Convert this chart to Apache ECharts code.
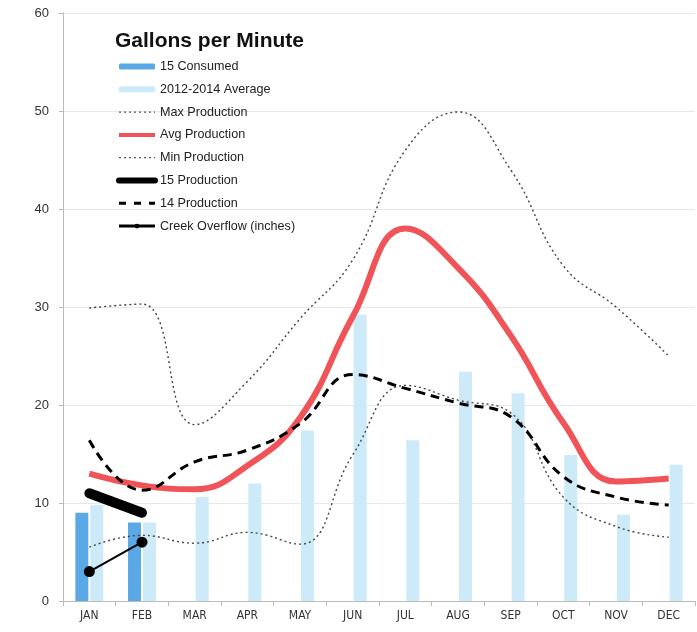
<!DOCTYPE html>
<html><head><meta charset="utf-8">
<script src="https://cdn.jsdelivr.net/npm/echarts@6/dist/echarts.min.js"></script>
<style>html,body{margin:0;padding:0;background:#fff}#c{width:697px;height:632px}</style>
</head><body><div id="c"></div>
<script>
const months = ['JAN','FEB','MAR','APR','MAY','JUN','JUL','AUG','SEP','OCT','NOV','DEC'];
const consumed15 = [9, 8, null, null, null, null, null, null, null, null, null, null];
const avg2012_2014 = [9.8, 8, 10.6, 12, 17.4, 29.2, 16.4, 23.4, 21.2, 14.9, 8.8, 13.9];
const maxProduction = [29.9, 30.3, 18, 22.4, 28.8, 34.8, 46, 49.9, 44, 34.2, 30, 25];
const avgProduction = [13, 11.8, 11.4, 13.8, 18.7, 29, 38, 34, 27.1, 18.2, 12.2, 12.5];
const minProduction = [5.5, 6.7, 5.9, 7, 5.8, 14.9, 22, 20.5, 19.2, 10.6, 7.6, 6.5];
const production15 = [11, 9, null, null, null, null, null, null, null, null, null, null];
const production14 = [16.4, 11.3, 14.2, 15.4, 18.1, 23.1, 21.7, 20.2, 18.8, 12.7, 10.6, 9.8];
const creekOverflow = [3, 6, null, null, null, null, null, null, null, null, null, null];
const yTicks = [0, 10, 20, 30, 40, 50, 60];

const chart = echarts.init(document.getElementById('c'));
const F = 'Liberation Sans, Arial, sans-serif';
const noSym = { opacity: 0 };
chart.setOption({
  animation: false,
  backgroundColor: '#fff',
  title: {
    text: 'Gallons per Minute', left: 110, top: 26,
    textStyle: { fontFamily: F, fontWeight: 'bold', fontSize: 21, color: '#111' }
  },
  legend: {
    orient: 'vertical', left: 111, top: 55,
    itemWidth: 36, itemHeight: 6, itemGap: 9.8,
    textStyle: { fontFamily: F, fontSize: 12.6, color: '#222', lineHeight: 12.3 },
    data: [
      { name: '15 Consumed' },
      { name: '2012-2014 Average' },
      { name: 'Max Production', itemStyle: noSym, lineStyle: { width: 1.3, type: [2, 3], color: '#555' } },
      { name: 'Avg Production', itemStyle: noSym, lineStyle: { width: 4, color: '#f05458' } },
      { name: 'Min Production', itemStyle: noSym, lineStyle: { width: 1.3, type: [2, 3], color: '#555' } },
      { name: '15 Production', itemStyle: noSym, lineStyle: { width: 6, color: '#000' } },
      { name: '14 Production', itemStyle: noSym, lineStyle: { width: 3, type: [7, 8], color: '#000' } },
      { name: 'Creek Overflow (inches)', lineStyle: { width: 3, color: '#000' } }
    ]
  },
  grid: { left: 63, right: 2, top: 13, bottom: 31, containLabel: false },
  xAxis: {
    type: 'category', data: months, boundaryGap: true,
    axisLine: { lineStyle: { color: '#bbb' } },
    axisTick: { show: true, lineStyle: { color: '#bbb' } },
    axisLabel: { fontFamily: 'DejaVu Sans Condensed, DejaVu Sans', fontSize: 12, color: '#333', margin: 9 }
  },
  yAxis: {
    type: 'value', min: yTicks[0], max: yTicks[yTicks.length-1], interval: 10,
    axisLine: { show: true, lineStyle: { color: '#bbb' } },
    axisTick: { show: true, length: 4, lineStyle: { color: '#bbb' } },
    axisLabel: { fontFamily: F, fontSize: 13, color: '#333', margin: 14 },
    splitLine: { show: true, lineStyle: { color: '#e8e8e8' } }
  },
  series: [
    { name: '15 Consumed', type: 'bar', data: consumed15, barWidth: 13, barGap: '15%',
      itemStyle: { color: '#5aa8e6' }, z: 1 },
    { name: '2012-2014 Average', type: 'bar', data: avg2012_2014, barWidth: 13,
      itemStyle: { color: '#cdeaf9' }, z: 1 },
    { name: 'Max Production', type: 'line', data: maxProduction, smooth: 0.45, symbol: 'none',
      lineStyle: { color: '#444', width: 1.4, type: [2, 3] }, itemStyle: { color: '#444' }, z: 3 },
    { name: 'Avg Production', type: 'line', data: avgProduction, smooth: 0.45, symbol: 'none',
      lineStyle: { color: '#f05458', width: 6 }, itemStyle: { color: '#f05458' }, z: 4 },
    { name: 'Min Production', type: 'line', data: minProduction, smooth: 0.45, symbol: 'none',
      lineStyle: { color: '#444', width: 1.4, type: [2, 3] }, itemStyle: { color: '#444' }, z: 3 },
    { name: '15 Production', type: 'line', data: production15, symbol: 'none',
      lineStyle: { color: '#000', width: 10, cap: 'round' }, itemStyle: { color: '#000' }, z: 6 },
    { name: '14 Production', type: 'line', data: production14, smooth: 0.45, symbol: 'none',
      lineStyle: { color: '#000', width: 3, type: [9, 6] }, itemStyle: { color: '#000' }, z: 5 },
    { name: 'Creek Overflow (inches)', type: 'line', data: creekOverflow, symbol: 'circle', symbolSize: 11,
      lineStyle: { color: '#000', width: 2 }, itemStyle: { color: '#000' }, z: 7 }
  ]
});
</script></body></html>
